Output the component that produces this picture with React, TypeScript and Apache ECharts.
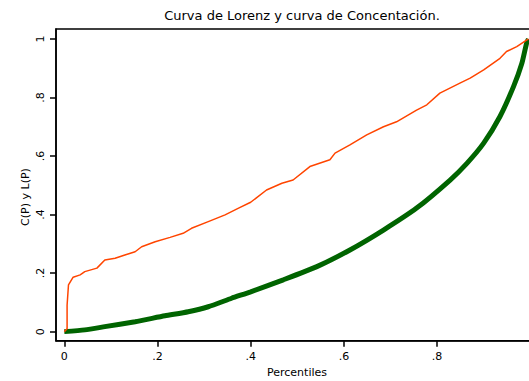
import React, { useEffect, useRef } from "react";
import * as echarts from "echarts";

const titleText = "Curva de Lorenz y curva de Concentación.";
const xAxisName = "Percentiles";
const yAxisName = "C(P) y L(P)";
const tickValues = [0, 0.2, 0.4, 0.6, 0.8, 1];
const xLabelValues = [0, 0.2, 0.4, 0.6, 0.8];

// Orange curve (concentration curve)
const orangeX = [0, 0.006, 0.006, 0.009, 0.019, 0.034, 0.044, 0.07, 0.087, 0.109, 0.13, 0.152, 0.166, 0.195, 0.227, 0.255, 0.273, 0.309, 0.345, 0.374, 0.4, 0.434, 0.467, 0.491, 0.527, 0.57, 0.581, 0.613, 0.649, 0.685, 0.713, 0.756, 0.778, 0.806, 0.849, 0.871, 0.9, 0.935, 0.949, 0.971, 0.996];
const orangeY = [0, 0.01, 0.09, 0.16, 0.186, 0.194, 0.205, 0.217, 0.245, 0.251, 0.262, 0.273, 0.29, 0.307, 0.322, 0.336, 0.353, 0.376, 0.399, 0.422, 0.442, 0.484, 0.507, 0.518, 0.564, 0.587, 0.61, 0.638, 0.672, 0.7, 0.717, 0.757, 0.775, 0.815, 0.849, 0.866, 0.894, 0.934, 0.957, 0.974, 1.0];

// Green curve (Lorenz curve)
const greenX = [0, 0.044, 0.087, 0.152, 0.216, 0.266, 0.309, 0.359, 0.4, 0.47, 0.542, 0.613, 0.685, 0.756, 0.828, 0.864, 0.9, 0.935, 0.964, 0.982, 0.992, 0.996];
const greenY = [0, 0.006, 0.017, 0.034, 0.054, 0.068, 0.085, 0.114, 0.136, 0.177, 0.222, 0.279, 0.347, 0.422, 0.518, 0.575, 0.644, 0.735, 0.837, 0.917, 0.985, 1.0];

const fmt = (v: number) => (v === 0 ? "0" : v === 1 ? "1" : String(v).replace(/^0\./, "."));

export default function App() {
  const ref = useRef<HTMLDivElement>(null);
  useEffect(() => {
    if (!ref.current) return;
    const chart = echarts.init(ref.current, null, { renderer: "svg" });
    const font = "DejaVu Sans";
    chart.setOption({
      animation: false,
      backgroundColor: "#fff",
      grid: {
        left: 56,
        right: -5,
        top: 29,
        bottom: 40.3,
        containLabel: false,
        outerBoundsMode: "none",
        show: true,
        borderColor: "#000",
        borderWidth: 1.5,
        backgroundColor: "#fff",
      },
      xAxis: {
        type: "value",
        min: -0.0178,
        max: 1.008,
        splitLine: { show: false },
        axisLine: { onZero: false, lineStyle: { color: "#000", width: 1.5 } },
        axisTick: { customValues: tickValues, length: 6, lineStyle: { color: "#000", width: 1.5 } },
        axisLabel: {
          customValues: xLabelValues,
          formatter: fmt,
          color: "#000",
          fontFamily: font,
          fontSize: 11,
          margin: 10,
        },
      },
      yAxis: {
        type: "value",
        min: -0.031,
        max: 1.034,
        splitLine: { show: false },
        axisLine: { onZero: false, lineStyle: { color: "#000", width: 1.5 } },
        axisTick: { customValues: tickValues, length: 6, lineStyle: { color: "#000", width: 1.5 } },
        axisLabel: {
          customValues: tickValues,
          formatter: fmt,
          rotate: 90,
          color: "#000",
          fontFamily: font,
          fontSize: 11,
          margin: 10,
        },
      },
      graphic: [
        {
          type: "text",
          x: 302,
          y: 15,
          style: {
            text: titleText,
            fill: "#000",
            font: `13px "${font}"`,
            textAlign: "center",
            textVerticalAlign: "middle",
          },
        },
        {
          type: "text",
          x: 297,
          y: 372,
          style: {
            text: xAxisName,
            fill: "#000",
            font: `11px "${font}"`,
            textAlign: "center",
            textVerticalAlign: "middle",
          },
        },
        {
          type: "text",
          x: 25,
          y: 197,
          rotation: Math.PI / 2,
          style: {
            text: yAxisName,
            fill: "#000",
            font: `11px "${font}"`,
            textAlign: "center",
            textVerticalAlign: "middle",
          },
        },
      ],
      series: [
        {
          type: "line",
          name: "L(P)",
          data: greenX.map((x, i) => [x, greenY[i]]),
          showSymbol: false,
          smooth: 0.2,
          lineStyle: { color: "#006400", width: 5 },
          z: 2,
        },
        {
          type: "line",
          name: "C(P)",
          data: orangeX.map((x, i) => [x, orangeY[i]]),
          showSymbol: false,
          smooth: false,
          lineStyle: { color: "#FF4500", width: 1.5 },
          z: 3,
        },
      ],
    });
    return () => chart.dispose();
  }, []);
  return (
    <div
      ref={ref}
      style={{ position: "fixed", left: 0, top: 0, width: 529, height: 381, background: "#fff" }}
    />
  );
}
